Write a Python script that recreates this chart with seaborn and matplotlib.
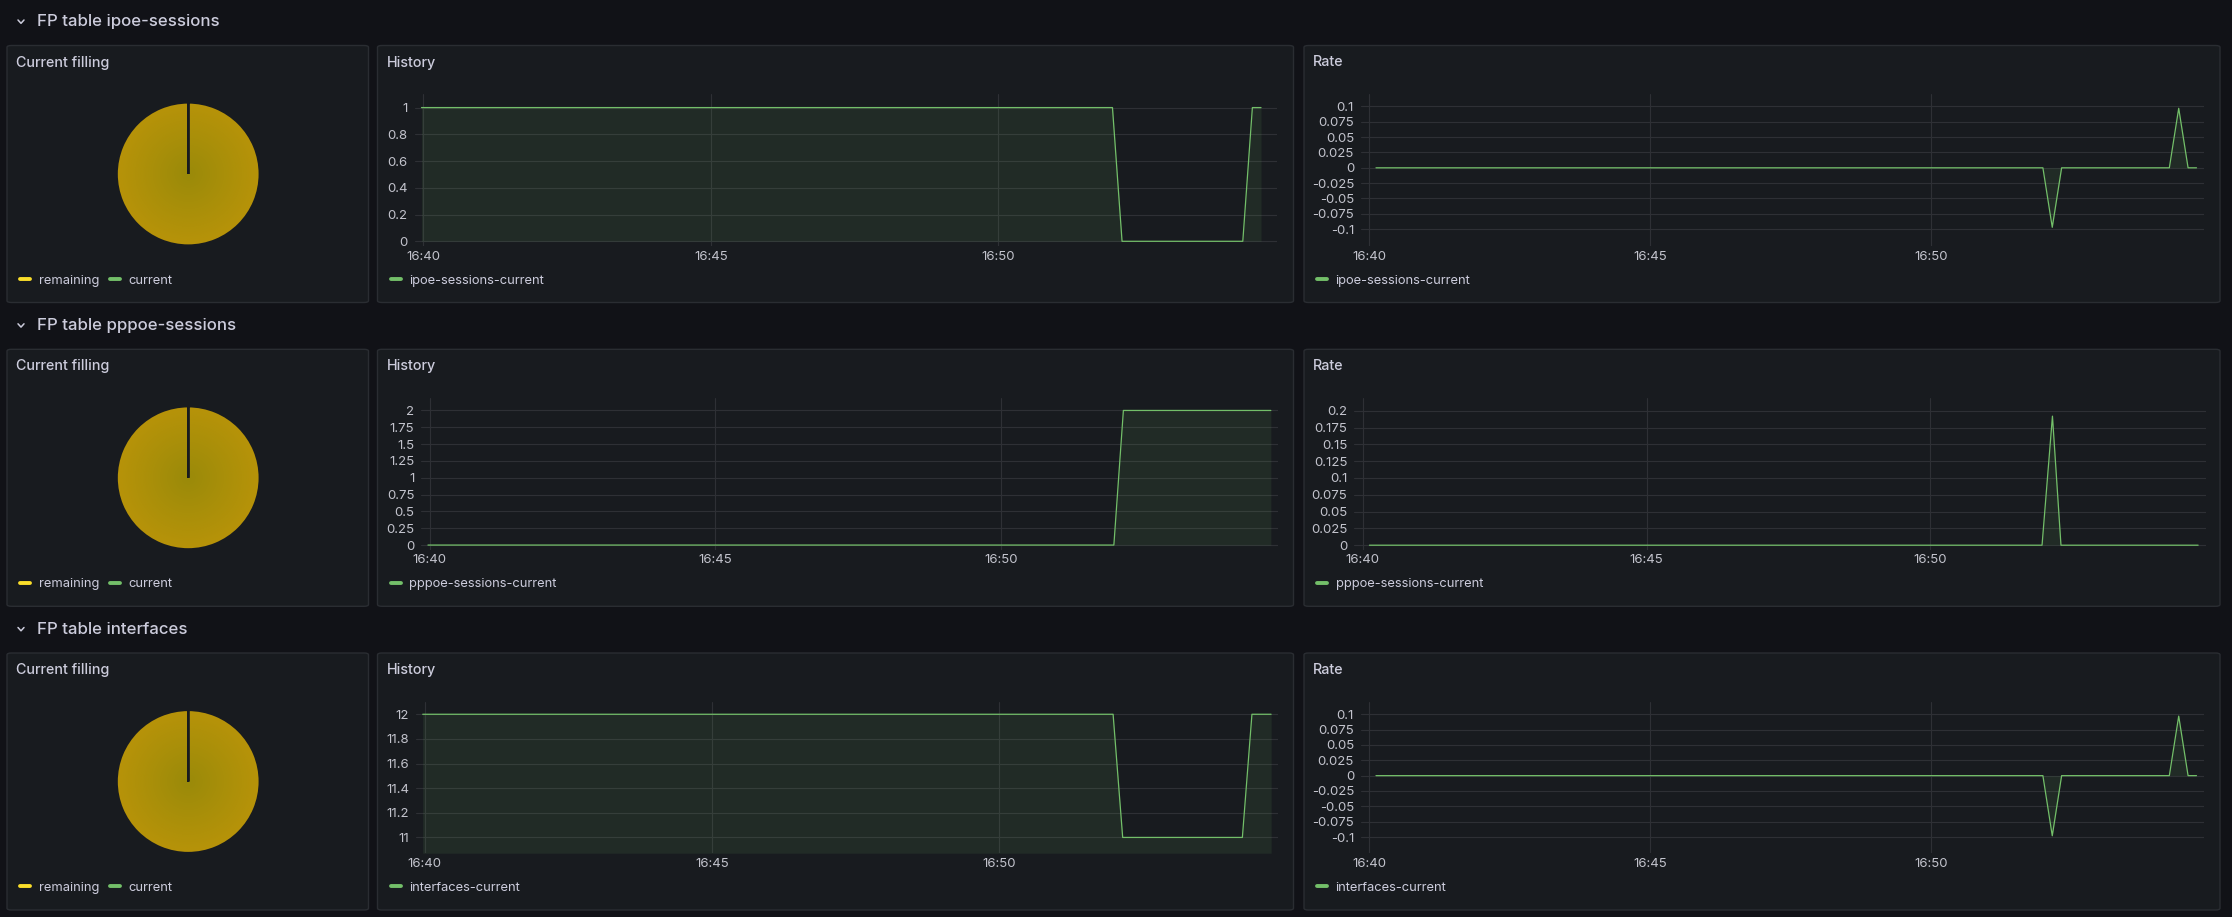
import numpy as np
import pandas as pd
import matplotlib
matplotlib.use("Agg")
import matplotlib.pyplot as plt
import matplotlib.dates as mdates
from matplotlib.lines import Line2D
from matplotlib.patches import FancyBboxPatch
from matplotlib.colors import LinearSegmentedColormap
from matplotlib.ticker import FuncFormatter, FixedLocator
import seaborn as sns

# data (breakpoints of each series)
tables = ["ipoe-sessions", "pppoe-sessions", "interfaces"]

ipoe_hist_time = ["16:39:58", "16:51:59", "16:52:09", "16:54:15", "16:54:25", "16:54:34"]
ipoe_hist_value = [1, 1, 0, 0, 1, 1]
ipoe_rate_time = ["16:40:07", "16:51:59", "16:52:09", "16:52:19", "16:54:14", "16:54:24", "16:54:34", "16:54:43"]
ipoe_rate_value = [0, 0, -0.097, 0, 0, 0.097, 0, 0]

pppoe_hist_time = ["16:39:58", "16:51:59", "16:52:09", "16:54:44"]
pppoe_hist_value = [0, 0, 2, 2]
pppoe_rate_time = ["16:40:07", "16:51:58", "16:52:09", "16:52:18", "16:54:43"]
pppoe_rate_value = [0, 0, 0.192, 0, 0]

if_hist_time = ["16:39:58", "16:51:59", "16:52:09", "16:54:14", "16:54:24", "16:54:44"]
if_hist_value = [12, 12, 11, 11, 12, 12]
if_rate_time = ["16:40:07", "16:51:59", "16:52:09", "16:52:19", "16:54:14", "16:54:24", "16:54:34", "16:54:43"]
if_rate_value = [0, 0, -0.098, 0, 0, 0.097, 0, 0]

# pie: current filling vs remaining capacity
pie_labels = ["remaining", "current"]
pie_current = [1, 2, 12]
pie_remaining = [65535, 65534, 65524]

time_range = ["16:39:51", "16:54:51"]
x_ticks = ["16:40", "16:45", "16:50"]

hist_ticks = [[0, 0.2, 0.4, 0.6, 0.8, 1],
              [0, 0.25, 0.5, 0.75, 1, 1.25, 1.5, 1.75, 2],
              [11, 11.2, 11.4, 11.6, 11.8, 12]]
rate_ticks = [[-0.1, -0.075, -0.05, -0.025, 0, 0.025, 0.05, 0.075, 0.1],
              [0, 0.025, 0.05, 0.075, 0.1, 0.125, 0.15, 0.175, 0.2],
              [-0.1, -0.075, -0.05, -0.025, 0, 0.025, 0.05, 0.075, 0.1]]

hist_series = [(ipoe_hist_time, ipoe_hist_value), (pppoe_hist_time, pppoe_hist_value), (if_hist_time, if_hist_value)]
rate_series = [(ipoe_rate_time, ipoe_rate_value), (pppoe_rate_time, pppoe_rate_value), (if_rate_time, if_rate_value)]

# layout (pixels)
W, H = 2232, 917
row_top = [45.5, 349.3, 653.0]
panel_h = 257
panel_cols = [(7, 368.5), (377.5, 1293.5), (1304, 2220)]
hist_x = [(414.8, 1277.3), (421.3, 1277.5), (416, 1277.8)]
rate_x = [(1361, 2204), (1354.3, 2205.7), (1361, 2204)]
hist_ylim = [(-0.033, 1.1), (-0.066, 2.185), (10.872, 12.102)]
rate_ylim = [(-0.127, 0.12), (-0.0064, 0.219), (-0.1264, 0.1205)]

CANVAS = "#111217"
PANEL = "#181b1f"
BORDER = "#2a2d32"
GRID = "#2e3035"
TEXT = "#ccccdc"
TICK = "#c2c3cc"
GREEN = "#73BF69"
YELLOW = "#FADE2A"

sns.set_style("dark")
plt.rcParams['font.family'] = ['Inter', 'DejaVu Sans']

fig = plt.figure(figsize=(W / 100, H / 100), dpi=100, facecolor=CANVAS)


def box(l, t, r, b):
    return [l / W, 1 - b / H, (r - l) / W, (b - t) / H]


def fy(y):
    return 1 - y / H


def legend(x, y, labels, colors):
    handles = [Line2D([], [], color=c, lw=2.8, solid_capstyle='round') for c in colors]
    fig.legend(handles, labels, loc='center left', bbox_to_anchor=(x / W, fy(y)), ncol=len(labels),
               frameon=False, fontsize=9.3, labelcolor=TEXT, handlelength=0.8, handletextpad=0.65,
               columnspacing=0.85, borderpad=0, borderaxespad=0)


def to_time(ts):
    return pd.to_datetime(pd.Series(ts), format="%H:%M:%S")


fmt = FuncFormatter(lambda v, p: "{:g}".format(round(v, 6)))
xlo, xhi = to_time(time_range)
xticks = mdates.date2num(pd.to_datetime(pd.Series(x_ticks), format="%H:%M"))

pie_cmap = LinearSegmentedColormap.from_list("pie", ["#9a8a0a", "#a98f09", "#b79309"])


def style_axes(ax, ticks, ylim):
    ax.set_facecolor("none")
    for s in ax.spines.values():
        s.set_visible(False)
    ax.set_xlim(xlo, xhi)
    ax.set_ylim(*ylim)
    ax.xaxis.set_major_locator(FixedLocator(xticks))
    ax.xaxis.set_major_formatter(mdates.DateFormatter("%H:%M"))
    ax.yaxis.set_major_locator(FixedLocator(ticks))
    ax.yaxis.set_major_formatter(fmt)
    ax.grid(True, color=GRID, lw=0.8)
    ax.set_axisbelow(True)
    ax.tick_params(length=0, labelsize=9.5, colors=TICK)
    ax.tick_params(axis='y', pad=5)
    ax.tick_params(axis='x', pad=3.5)
    ax.set_xlabel("")
    ax.set_ylabel("")


for i, name in enumerate(tables):
    top = row_top[i]
    bottom = top + panel_h

    # section header
    hy = top - 24
    fig.text(37 / W, fy(hy), "FP table " + name, color=TEXT, fontsize=12.1, fontweight='medium', va='center', ha='left')
    fig.lines.append(Line2D([18 / W, 21 / W, 24 / W], [fy(hy - 1.5), fy(hy + 1.8), fy(hy - 1.5)],
                            transform=fig.transFigure, color=TEXT, lw=1.1))

    # panels
    for (l, r), title in zip(panel_cols, ["Current filling", "History", "Rate"]):
        fig.patches.append(FancyBboxPatch((l / W, fy(bottom)), (r - l) / W, panel_h / H,
                                          boxstyle="round,pad=0,rounding_size=0.002",
                                          transform=fig.transFigure, facecolor=PANEL,
                                          edgecolor=BORDER, lw=1, zorder=-5))
        fig.text((l + 9) / W, fy(top + 17), title, color=TEXT, fontsize=10.3, fontweight='medium',
                 va='center', ha='left')

    # pie
    cx, cy, rad = 188.2, top + 128.5, 71.5
    ax_pie = fig.add_axes(box(cx - 75, cy - 75, cx + 75, cy + 75))
    ax_pie.set_facecolor("none")
    wedges, _ = ax_pie.pie([pie_remaining[i], pie_current[i]], colors=[YELLOW, GREEN], startangle=90,
                           counterclock=False, radius=1,
                           wedgeprops=dict(edgecolor=PANEL, linewidth=1.6))
    gx, gy = np.meshgrid(np.linspace(-1, 1, 300), np.linspace(-1, 1, 300))
    img = ax_pie.imshow(np.hypot(gx, gy), cmap=pie_cmap, vmin=0, vmax=1, extent=(-1, 1, -1, 1), zorder=1)
    img.set_clip_path(wedges[0])
    wedges[0].set_facecolor("none")
    for w in wedges:
        w.set_zorder(2)
    ax_pie.set_xlim(-75 / rad, 75 / rad)
    ax_pie.set_ylim(-75 / rad, 75 / rad)
    ax_pie.set_axis_off()
    legend(panel_cols[0][0] + 13, top + 235, pie_labels, [YELLOW, GREEN])

    # history
    ax_h = fig.add_axes(box(hist_x[i][0], top + 48.7, hist_x[i][1], top + 200.2))
    t, v = hist_series[i]
    df = pd.DataFrame({"time": to_time(t), "value": v})
    sns.lineplot(data=df, x="time", y="value", ax=ax_h, color=GREEN, linewidth=0.9)
    style_axes(ax_h, hist_ticks[i], hist_ylim[i])
    base = max(0, hist_ylim[i][0])
    ax_h.fill_between(df["time"], df["value"], base, color=GREEN, alpha=0.1, linewidth=0)
    legend(panel_cols[1][0] + 13, top + 235, [name + "-current"], [GREEN])

    # rate
    ax_r = fig.add_axes(box(rate_x[i][0], top + 48.7, rate_x[i][1], top + 200.2))
    t, v = rate_series[i]
    df = pd.DataFrame({"time": to_time(t), "value": v})
    sns.lineplot(data=df, x="time", y="value", ax=ax_r, color=GREEN, linewidth=0.9)
    style_axes(ax_r, rate_ticks[i], rate_ylim[i])
    ax_r.fill_between(df["time"], df["value"], 0, color=GREEN, alpha=0.1, linewidth=0)
    legend(panel_cols[2][0] + 13, top + 235, [name + "-current"], [GREEN])

fig.savefig("out.png", dpi=100, facecolor=CANVAS)
